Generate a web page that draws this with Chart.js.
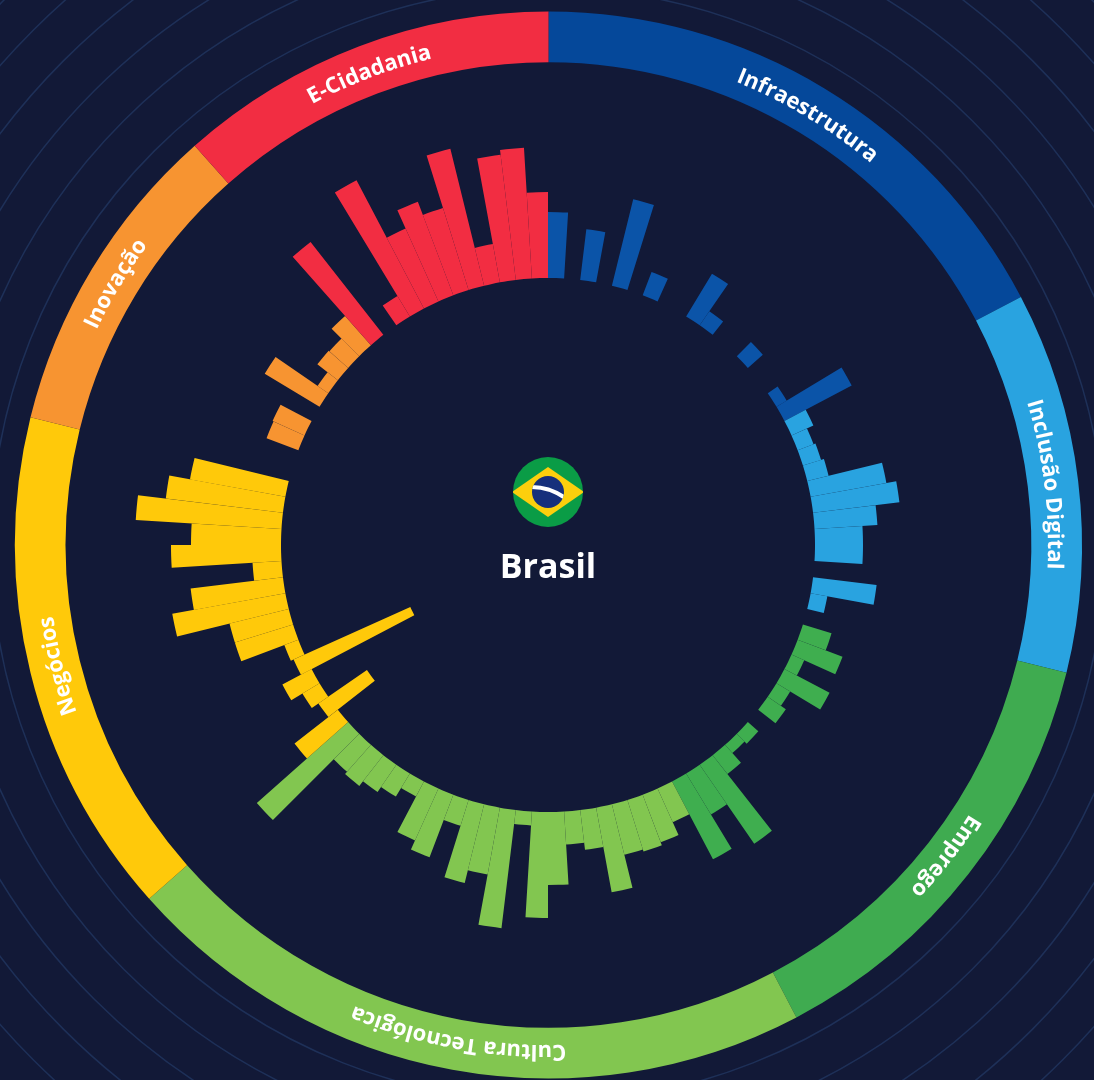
<!DOCTYPE html>
<html lang="pt">
<head>
<meta charset="utf-8">
<title>Brasil</title>
<script src="https://cdn.jsdelivr.net/npm/chart.js@4/dist/chart.umd.min.js"></script>
<style>
html,body{margin:0;padding:0;background:#121937;width:1094px;height:1080px;overflow:hidden}
canvas{display:block}
</style>
</head>
<body>
<canvas id="c" width="1094" height="1080"></canvas>
<script>
const categories = ["Infraestrutura","Inclusão Digital","Emprego","Cultura Tecnológica","Negócios","Inovação","E-Cidadania"];
const infraestrutura = [33,0,25.5,0,44.5,0,12.5,0,0,25,8.5,0,0,10,0,0,6,38];
const inclusaoDigital = [12,8.5,9.5,11,38.5,43.5,31.5,24,24,0,32,8.5];
const emprego = [0,15,24,7,25.5,8,11,0,7,5.5,12,48,24,44];
const culturaTecnologica = [18.5,25.5,27,26,43,20,16.5,36.5,53,7,59.5,34,40.5,13.5,33.5,28.5,8.5,13.5,16.5,19.5,18,61];
const negocios = [27.5,-23.5,10,16.5,-58,7.5,30.5,30.5,57.5,46.5,14.5,55,45,73,59,48.5];
const inovacao = [0,0,17,17.5,0,32,6.5,13,12.5,19.5];
const eCidadania = [59,0,12,72.5,40,50,43,70.5,19.5,63,65.5,43];
const series = [infraestrutura,inclusaoDigital,emprego,culturaTecnologica,negocios,inovacao,eCidadania];
const ringColors = ["#05489a","#29a3e0","#3fab50","#82c650","#ffc90a","#f79431","#f22d42"];
const barColors  = ["#0b54a8","#29a3e0","#3fae4f","#82c650","#ffc90a","#f79431","#f22d42"];
const gridRings = [145,166.5,187.5,209,230.5,251.5];
const inwardBarReach = 6;
const countryName = "Brasil";

const values = series.flat();
const labels = series.flatMap((s,k)=>s.map((_,i)=>categories[k]+" "+(i+1)));
const colors = series.flatMap((s,k)=>s.map(()=>barColors[k]));

const radialBase = {
  id:'radialBase',
  afterDatasetUpdate(chart,args){
    if(args.meta.type!=='polarArea') return;
    const scale = chart.scales.r;
    const r0 = scale.getDistanceFromCenterForValue(0);
    const rOut = scale.getDistanceFromCenterForValue(inwardBarReach);
    args.meta.data.forEach(a=>{
      const r = a.outerRadius;
      if(r<r0){ a.innerRadius = r; a.outerRadius = rOut; }
      else { a.innerRadius = r0; }
    });
  }
};

const decorations = {
  id:'decorations',
  afterDraw(chart){
    const ctx = chart.ctx, s = chart.scales.r, cx = s.xCenter, cy = s.yCenter;
    const total = values.length;
    let start = 0;
    ctx.save();
    ctx.fillStyle = '#ffffff';
    ctx.font = '700 22px "Open Sans"';
    ctx.textAlign = 'left';
    ctx.textBaseline = 'alphabetic';
    const R = 500;
    categories.forEach((name,k)=>{
      const span = series[k].length/total*Math.PI*2;
      const mid = start+span/2;
      const w = ctx.measureText(name).width;
      for(let i=0;i<name.length;i++){
        const off = ctx.measureText(name.slice(0,i)).width;
        const a = mid + (off-w/2)/R;
        ctx.save();
        ctx.translate(cx+R*Math.sin(a), cy-R*Math.cos(a));
        ctx.rotate(a);
        ctx.fillText(name[i],0,0);
        ctx.restore();
      }
      start += span;
    });
    ctx.restore();
    const fy = cy-53;
    ctx.save();
    ctx.beginPath(); ctx.arc(cx,fy,35,0,Math.PI*2); ctx.fillStyle='#0a9c46'; ctx.fill(); ctx.clip();
    ctx.beginPath(); ctx.moveTo(cx-36,fy); ctx.lineTo(cx,fy-25); ctx.lineTo(cx+36,fy); ctx.lineTo(cx,fy+25); ctx.closePath();
    ctx.fillStyle='#fccf0d'; ctx.fill();
    ctx.beginPath(); ctx.arc(cx,fy,16,0,Math.PI*2); ctx.fillStyle='#16307c'; ctx.fill(); ctx.clip();
    ctx.beginPath(); ctx.moveTo(cx-17,fy-5); ctx.quadraticCurveTo(cx+2,fy-5,cx+17,fy+6);
    ctx.lineWidth=4; ctx.strokeStyle='#ffffff'; ctx.stroke();
    ctx.restore();
    ctx.save();
    ctx.fillStyle='#ffffff';
    ctx.font='700 34px "Open Sans"';
    ctx.textAlign='center'; ctx.textBaseline='alphabetic';
    ctx.fillText(countryName,cx,cy+33);
    ctx.restore();
  }
};

new Chart(document.getElementById('c'),{
  type:'polarArea',
  data:{
    labels,
    datasets:[
      {type:'doughnut',data:series.map(s=>s.length),backgroundColor:ringColors,borderWidth:0,radius:533.5,cutout:'90.5%',rotation:0,circumference:360},
      {label:countryName,data:values,backgroundColor:colors,borderWidth:0,weight:0}
    ]
  },
  options:{
    responsive:false,
    animation:false,
    devicePixelRatio:1,
    layout:{padding:{left:3,top:10,right:0,bottom:0}},
    plugins:{legend:{display:false},tooltip:{enabled:false},title:{display:false}},
    scales:{
      r:{
        min:-133.5,max:134,
        afterBuildTicks(scale){scale.ticks = gridRings.map(value=>({value}));},
        ticks:{display:false},
        angleLines:{display:false},
        pointLabels:{display:false},
        grid:{color:'#1e3058',lineWidth:1.5}
      }
    }
  },
  plugins:[radialBase,decorations]
});
</script>
</body>
</html>
